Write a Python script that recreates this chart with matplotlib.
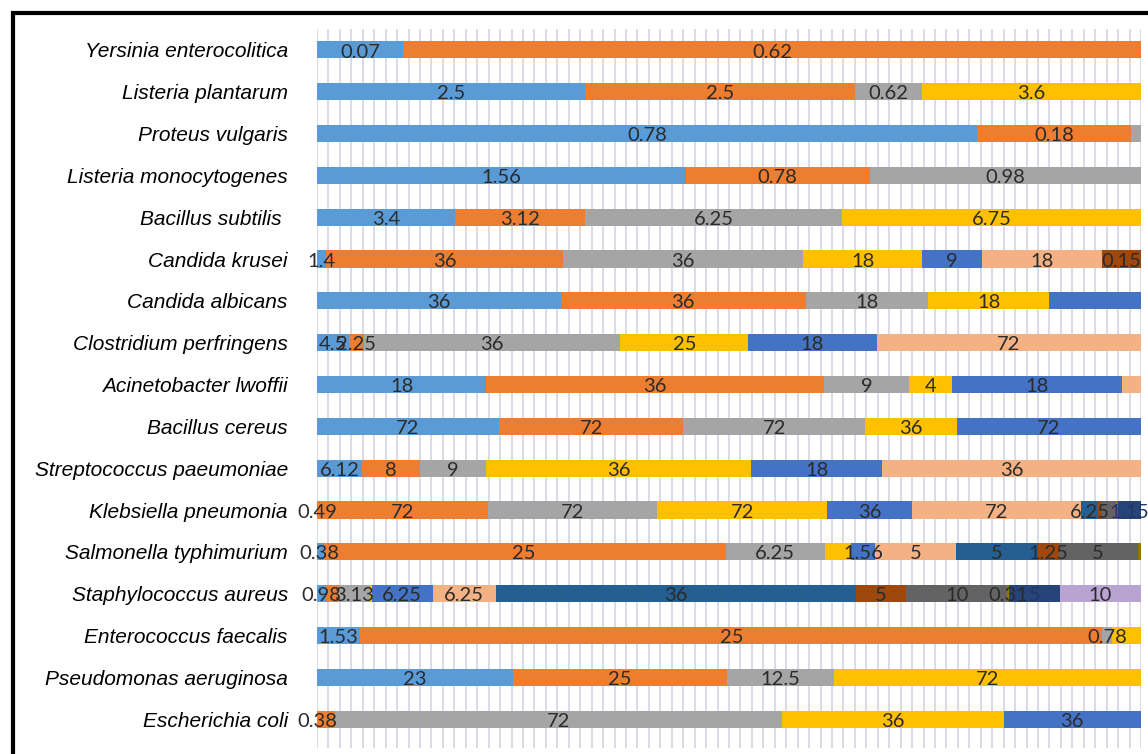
import matplotlib.pyplot as plt
from matplotlib.patches import Rectangle
import numpy as np

organisms = [
    "Yersinia enterocolitica", "Listeria plantarum", "Proteus vulgaris",
    "Listeria monocytogenes", "Bacillus subtilis ", "Candida krusei",
    "Candida albicans", "Clostridium perfringens", "Acinetobacter lwoffii",
    "Bacillus cereus", "Streptococcus paeumoniae", "Klebsiella pneumonia",
    "Salmonella typhimurium", "Staphylococcus aureus", "Enterococcus faecalis",
    "Pseudomonas aeruginosa", "Escherichia coli",
]

# segment lengths (one list per organism, series order)
widths = [
    [7.5, 64.5],
    [23.4, 23.6, 5.9, 19.1],
    [57.7, 13.4, 0.9],
    [32.2, 16.1, 23.7],
    [12.1, 11.3, 22.5, 26.1],
    [0.8, 20.7, 21.0, 10.4, 5.2, 10.5, 0.0, 3.4],
    [21.3, 21.4, 10.7, 10.6, 8.0],
    [2.8, 1.3, 22.4, 11.2, 11.2, 23.1],
    [14.8, 29.5, 7.4, 3.8, 14.8, 1.7],
    [15.9, 16.1, 15.9, 8.0, 16.1],
    [3.9, 5.1, 5.8, 23.1, 11.5, 22.6],
    [0.0, 14.9, 14.8, 14.9, 7.4, 14.8, 1.4, 0.4, 1.2, 0.2, 2.0],
    [0.5, 35.2, 8.7, 2.3, 2.1, 7.0, 7.2, 1.8, 6.9, 0.3],
    [0.8, 1.1, 2.7, 0.2, 5.3, 5.5, 31.5, 4.4, 8.8, 0.2, 4.4, 7.1],
    [3.8, 64.8, 0.9, 2.5],
    [17.1, 18.7, 9.4, 26.8],
    [0.0, 1.6, 39.0, 19.4, 12.0],
]

# data labels printed on the segments
labels = [
    ["0.07", "0.62"],
    ["2.5", "2.5", "0.62", "3.6"],
    ["0.78", "0.18", ""],
    ["1.56", "0.78", "0.98"],
    ["3.4", "3.12", "6.25", "6.75"],
    ["1.4", "36", "36", "18", "9", "18", "", "0.15"],
    ["36", "36", "18", "18", ""],
    ["4.5", "2.25", "36", "25", "18", "72"],
    ["18", "36", "9", "4", "18", ""],
    ["72", "72", "72", "36", "72"],
    ["6.12", "8", "9", "36", "18", "36"],
    ["0.49", "72", "72", "72", "36", "72", "6.25", "", "", "", "1.15"],
    ["0.38", "25", "6.25", "", "1.56", "5", "5", "1.25", "5", ""],
    ["0.98", "", "3.13", "", "6.25", "6.25", "36", "5", "10", "0.31", "5", "10"],
    ["1.53", "25", "0.78", ""],
    ["23", "25", "12.5", "72"],
    ["0.38", "", "72", "36", "36"],
]

series_colors = ["#5B9BD5", "#ED7D31", "#A5A5A5", "#FFC000", "#4472C4", "#F4B183",
                 "#255E91", "#9E480E", "#636363", "#997300", "#264478", "#B9A3D3"]

fig = plt.figure(figsize=(11.48, 7.54), dpi=100)
ax = fig.add_axes([317 / 1148, 6 / 754, 824 / 1148, 719 / 754])

y = np.arange(len(organisms))
for i, (row, labs) in enumerate(zip(widths, labels)):
    left = 0.0
    for j, (w, lab) in enumerate(zip(row, labs)):
        ax.barh(y[i], w, left=left, height=0.41, color=series_colors[j], zorder=2)
        if lab:
            txt_color = "#1F3864" if series_colors[j] == "#264478" else "#2B2B2B"
            ax.text(left + w / 2, y[i] + 0.05, lab, ha="center", va="center",
                    fontsize=14.5, family="Lato", color=txt_color, zorder=3, clip_on=False)
        left += w

ax.set_xlim(0, 72)
ax.set_ylim(16.69, -0.5)
ax.set_xticks(np.arange(0, 73, 1))
ax.grid(axis="x", color="#D8DCE6", linewidth=1.4, zorder=0)
ax.tick_params(axis="x", length=0, labelbottom=False)
ax.set_yticks(y)
ax.set_yticklabels(organisms, fontstyle="italic", fontsize=15, family="Liberation Sans")
ax.tick_params(axis="y", length=0, pad=21)
for s in ax.spines.values():
    s.set_visible(False)

# black frame around the pasted chart
fig.patches.append(Rectangle((13 / 1148, -0.05), 1.2, 1 - 13 / 754 + 0.05,
                             transform=fig.transFigure, fill=False,
                             edgecolor="black", linewidth=3))

plt.savefig("out.png")
